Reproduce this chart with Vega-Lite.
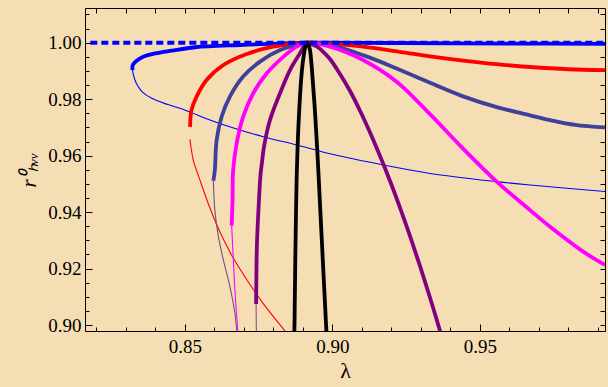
{
  "$schema": "https://vega.github.io/schema/vega-lite/v6.json",
  "width": 520,
  "height": 323,
  "autosize": {"type": "none"},
  "padding": {"left": 85, "top": 8, "right": 3, "bottom": 56},
  "background": "#f5deb3",
  "config": {
    "view": {"stroke": "#000", "strokeWidth": 1},
    "font": "Liberation Serif, Times New Roman, serif",
    "axis": {"domain": false, "grid": false, "tickColor": "#000", "tickWidth": 1, "labelColor": "#000", "titleColor": "#000", "labelFont": "Liberation Serif, Times New Roman, serif", "titleFont": "Liberation Serif, Times New Roman, serif", "labelFontSize": 19, "titleFontWeight": "normal"}
  },
  "datasets": {
    "thick": [
      {"s": "blue", "x": 0.8323, "y": 0.9903},
      {"s": "blue", "x": 0.8324, "y": 0.9921},
      {"s": "blue", "x": 0.8337, "y": 0.9936},
      {"s": "blue", "x": 0.8359, "y": 0.9950},
      {"s": "blue", "x": 0.8399, "y": 0.9962},
      {"s": "blue", "x": 0.8456, "y": 0.9972},
      {"s": "blue", "x": 0.8535, "y": 0.9984},
      {"s": "blue", "x": 0.8687, "y": 0.9992},
      {"s": "blue", "x": 0.8823, "y": 0.9997},
      {"s": "blue", "x": 0.8914, "y": 1.0},
      {"s": "blue", "x": 0.9230, "y": 0.9999},
      {"s": "blue", "x": 0.9600, "y": 0.9997},
      {"s": "blue", "x": 0.9924, "y": 0.9996},
      {"s": "red", "x": 0.8518, "y": 0.9702},
      {"s": "red", "x": 0.8523, "y": 0.9762},
      {"s": "red", "x": 0.8540, "y": 0.9809},
      {"s": "red", "x": 0.8574, "y": 0.9868},
      {"s": "red", "x": 0.8631, "y": 0.9921},
      {"s": "red", "x": 0.8710, "y": 0.9960},
      {"s": "red", "x": 0.8800, "y": 0.9986},
      {"s": "red", "x": 0.8914, "y": 1.0},
      {"s": "red", "x": 0.8992, "y": 0.9997},
      {"s": "red", "x": 0.9104, "y": 0.9986},
      {"s": "red", "x": 0.9229, "y": 0.9968},
      {"s": "red", "x": 0.9331, "y": 0.9952},
      {"s": "red", "x": 0.9443, "y": 0.9937},
      {"s": "red", "x": 0.9557, "y": 0.9924},
      {"s": "red", "x": 0.9670, "y": 0.9914},
      {"s": "red", "x": 0.9800, "y": 0.9906},
      {"s": "red", "x": 0.9924, "y": 0.9903},
      {"s": "slate", "x": 0.8597, "y": 0.9511},
      {"s": "slate", "x": 0.8602, "y": 0.9549},
      {"s": "slate", "x": 0.8608, "y": 0.9655},
      {"s": "slate", "x": 0.8625, "y": 0.9738},
      {"s": "slate", "x": 0.8653, "y": 0.9809},
      {"s": "slate", "x": 0.8698, "y": 0.9880},
      {"s": "slate", "x": 0.8755, "y": 0.9933},
      {"s": "slate", "x": 0.8823, "y": 0.9974},
      {"s": "slate", "x": 0.8891, "y": 0.9995},
      {"s": "slate", "x": 0.8914, "y": 1.0},
      {"s": "slate", "x": 0.8992, "y": 0.9992},
      {"s": "slate", "x": 0.9104, "y": 0.9956},
      {"s": "slate", "x": 0.9218, "y": 0.9909},
      {"s": "slate", "x": 0.9331, "y": 0.9858},
      {"s": "slate", "x": 0.9443, "y": 0.9810},
      {"s": "slate", "x": 0.9557, "y": 0.9772},
      {"s": "slate", "x": 0.9670, "y": 0.9743},
      {"s": "slate", "x": 0.9738, "y": 0.9726},
      {"s": "slate", "x": 0.9823, "y": 0.9709},
      {"s": "slate", "x": 0.9924, "y": 0.9700},
      {"s": "magenta", "x": 0.8659, "y": 0.9352},
      {"s": "magenta", "x": 0.8662, "y": 0.9443},
      {"s": "magenta", "x": 0.8664, "y": 0.9549},
      {"s": "magenta", "x": 0.8676, "y": 0.9644},
      {"s": "magenta", "x": 0.8698, "y": 0.9738},
      {"s": "magenta", "x": 0.8732, "y": 0.9821},
      {"s": "magenta", "x": 0.8778, "y": 0.9892},
      {"s": "magenta", "x": 0.8834, "y": 0.9950},
      {"s": "magenta", "x": 0.8879, "y": 0.9986},
      {"s": "magenta", "x": 0.8914, "y": 1.0},
      {"s": "magenta", "x": 0.8992, "y": 0.9986},
      {"s": "magenta", "x": 0.9104, "y": 0.9939},
      {"s": "magenta", "x": 0.9218, "y": 0.9862},
      {"s": "magenta", "x": 0.9331, "y": 0.9747},
      {"s": "magenta", "x": 0.9443, "y": 0.9625},
      {"s": "magenta", "x": 0.9557, "y": 0.9508},
      {"s": "magenta", "x": 0.9670, "y": 0.9407},
      {"s": "magenta", "x": 0.9738, "y": 0.9348},
      {"s": "magenta", "x": 0.9850, "y": 0.9260},
      {"s": "magenta", "x": 0.9924, "y": 0.9213},
      {"s": "purple", "x": 0.87417, "y": 0.90744},
      {"s": "purple", "x": 0.87424, "y": 0.91357},
      {"s": "purple", "x": 0.87447, "y": 0.92894},
      {"s": "purple", "x": 0.87515, "y": 0.94428},
      {"s": "purple", "x": 0.87566, "y": 0.95313},
      {"s": "purple", "x": 0.87627, "y": 0.95845},
      {"s": "purple", "x": 0.87685, "y": 0.96316},
      {"s": "purple", "x": 0.87888, "y": 0.97262},
      {"s": "purple", "x": 0.88227, "y": 0.98208},
      {"s": "purple", "x": 0.88566, "y": 0.99033},
      {"s": "purple", "x": 0.88905, "y": 0.99625},
      {"s": "purple", "x": 0.89142, "y": 1.0},
      {"s": "purple", "x": 0.89312, "y": 0.99947},
      {"s": "purple", "x": 0.89515, "y": 0.99841},
      {"s": "purple", "x": 0.89719, "y": 0.99653},
      {"s": "purple", "x": 0.89922, "y": 0.99423},
      {"s": "purple", "x": 0.90261, "y": 0.98891},
      {"s": "purple", "x": 0.90600, "y": 0.98289},
      {"s": "purple", "x": 0.90939, "y": 0.97591},
      {"s": "purple", "x": 0.91278, "y": 0.96819},
      {"s": "purple", "x": 0.91617, "y": 0.95986},
      {"s": "purple", "x": 0.91956, "y": 0.95101},
      {"s": "purple", "x": 0.92295, "y": 0.94152},
      {"s": "purple", "x": 0.92634, "y": 0.93149},
      {"s": "purple", "x": 0.92973, "y": 0.92086},
      {"s": "purple", "x": 0.93312, "y": 0.90967},
      {"s": "purple", "x": 0.93651, "y": 0.89787},
      {"s": "purple", "x": 0.93922, "y": 0.88830},
      {"s": "black", "x": 0.88702, "y": 0.89468},
      {"s": "black", "x": 0.88715, "y": 0.89787},
      {"s": "black", "x": 0.88729, "y": 0.90886},
      {"s": "black", "x": 0.88746, "y": 0.92302},
      {"s": "black", "x": 0.88766, "y": 0.93719},
      {"s": "black", "x": 0.88790, "y": 0.95136},
      {"s": "black", "x": 0.88820, "y": 0.96199},
      {"s": "black", "x": 0.88854, "y": 0.97085},
      {"s": "black", "x": 0.88898, "y": 0.97970},
      {"s": "black", "x": 0.88956, "y": 0.98856},
      {"s": "black", "x": 0.89024, "y": 0.99493},
      {"s": "black", "x": 0.89085, "y": 0.99848},
      {"s": "black", "x": 0.89142, "y": 1.0},
      {"s": "black", "x": 0.89190, "y": 0.99936},
      {"s": "black", "x": 0.89244, "y": 0.99741},
      {"s": "black", "x": 0.89336, "y": 0.98679},
      {"s": "black", "x": 0.89431, "y": 0.97262},
      {"s": "black", "x": 0.89508, "y": 0.95845},
      {"s": "black", "x": 0.89576, "y": 0.94428},
      {"s": "black", "x": 0.89644, "y": 0.93011},
      {"s": "black", "x": 0.89712, "y": 0.91594},
      {"s": "black", "x": 0.89780, "y": 0.90177},
      {"s": "black", "x": 0.89800, "y": 0.89787},
      {"s": "black", "x": 0.89814, "y": 0.89468}
    ],
    "thin": [
      {"s": "blue", "x": 0.8323, "y": 0.9903},
      {"s": "blue", "x": 0.8326, "y": 0.9886},
      {"s": "blue", "x": 0.8335, "y": 0.9858},
      {"s": "blue", "x": 0.8355, "y": 0.9827},
      {"s": "blue", "x": 0.8388, "y": 0.9803},
      {"s": "blue", "x": 0.8443, "y": 0.9781},
      {"s": "blue", "x": 0.8500, "y": 0.9762},
      {"s": "blue", "x": 0.8597, "y": 0.9722},
      {"s": "blue", "x": 0.8687, "y": 0.9691},
      {"s": "blue", "x": 0.8766, "y": 0.9667},
      {"s": "blue", "x": 0.8879, "y": 0.9638},
      {"s": "blue", "x": 0.9003, "y": 0.9604},
      {"s": "blue", "x": 0.9173, "y": 0.9567},
      {"s": "blue", "x": 0.9331, "y": 0.9537},
      {"s": "blue", "x": 0.9557, "y": 0.9508},
      {"s": "blue", "x": 0.9670, "y": 0.9496},
      {"s": "blue", "x": 0.9924, "y": 0.9473},
      {"s": "red", "x": 0.85176, "y": 0.96578},
      {"s": "red", "x": 0.85210, "y": 0.96316},
      {"s": "red", "x": 0.85288, "y": 0.95845},
      {"s": "red", "x": 0.85515, "y": 0.95136},
      {"s": "red", "x": 0.85854, "y": 0.94144},
      {"s": "red", "x": 0.86193, "y": 0.93294},
      {"s": "red", "x": 0.86644, "y": 0.92373},
      {"s": "red", "x": 0.87098, "y": 0.91612},
      {"s": "red", "x": 0.87661, "y": 0.90762},
      {"s": "red", "x": 0.88397, "y": 0.89787},
      {"s": "red", "x": 0.88634, "y": 0.89468},
      {"s": "slate", "x": 0.8597, "y": 0.9511},
      {"s": "slate", "x": 0.8602, "y": 0.9407},
      {"s": "slate", "x": 0.8614, "y": 0.9313},
      {"s": "slate", "x": 0.8631, "y": 0.9230},
      {"s": "slate", "x": 0.8653, "y": 0.9136},
      {"s": "slate", "x": 0.8670, "y": 0.9042},
      {"s": "slate", "x": 0.8677, "y": 0.8972},
      {"s": "slate", "x": 0.8679, "y": 0.8950},
      {"s": "magenta", "x": 0.8659, "y": 0.9352},
      {"s": "magenta", "x": 0.8663, "y": 0.9266},
      {"s": "magenta", "x": 0.8670, "y": 0.9124},
      {"s": "magenta", "x": 0.8680, "y": 0.8972},
      {"s": "magenta", "x": 0.8683, "y": 0.8940},
      {"s": "purple", "x": 0.87417, "y": 0.90744},
      {"s": "purple", "x": 0.87430, "y": 0.8950}
    ],
    "dash": [
      {"x": 0.8180, "y": 1.0},
      {"x": 0.9924, "y": 1.0}
    ]
  },
  "resolve": {"axis": {"x": "independent", "y": "independent"}, "scale": {"color": "independent"}},
  "layer": [
    {
      "data": {"name": "thin"},
      "mark": {"type": "line", "clip": true, "interpolate": "catmull-rom", "strokeWidth": 1.1},
      "encoding": {
        "x": {"field": "x", "type": "quantitative", "scale": {"domain": [0.8162, 0.9924], "nice": false, "zero": false},
          "axis": {"orient": "bottom", "values": [0.82, 0.83, 0.84, 0.86, 0.87, 0.88, 0.89, 0.91, 0.92, 0.93, 0.94, 0.96, 0.97, 0.98, 0.99], "labels": false, "tickSize": -4, "title": null}},
        "y": {"field": "y", "type": "quantitative", "scale": {"domain": [0.8979, 1.0123], "nice": false, "zero": false},
          "axis": {"orient": "left", "values": [0.905, 0.91, 0.915, 0.925, 0.93, 0.935, 0.945, 0.95, 0.955, 0.965, 0.97, 0.975, 0.985, 0.99, 0.995, 1.005, 1.01], "labels": false, "tickSize": -4, "title": null}},
        "color": {"field": "s", "type": "nominal", "legend": null,
          "scale": {"domain": ["blue", "red", "slate", "magenta", "purple", "black"], "range": ["#0000ff", "#ff0000", "#70508a", "#ff00ff", "#9a4a9a", "#000000"]}}
      }
    },
    {
      "data": {"name": "thick"},
      "mark": {"type": "line", "clip": true, "interpolate": "catmull-rom", "strokeWidth": 3.8},
      "encoding": {
        "x": {"field": "x", "type": "quantitative", "scale": {"domain": [0.8162, 0.9924], "nice": false, "zero": false},
          "axis": {"orient": "bottom", "values": [0.85, 0.9, 0.95], "format": ".2f", "tickSize": -7, "labelPadding": 13, "labelFont": "Liberation Serif, Times New Roman, serif", "title": "λ", "titleFont": "Liberation Serif, Times New Roman, serif", "titleFontSize": 22, "titlePadding": 4}},
        "y": {"field": "y", "type": "quantitative", "scale": {"domain": [0.8979, 1.0123], "nice": false, "zero": false},
          "axis": {"orient": "left", "values": [0.9, 0.92, 0.94, 0.96, 0.98, 1.0], "format": ".2f", "tickSize": -7, "labelPadding": 11, "labelFont": "Liberation Serif, Times New Roman, serif", "title": "r⁰ₕᵥᵥ", "titleFont": "Liberation Serif, Times New Roman, serif", "titleFontStyle": "italic", "titleFontSize": 21, "titlePadding": 8}},
        "color": {"field": "s", "type": "nominal", "legend": null,
          "scale": {"domain": ["blue", "red", "slate", "magenta", "purple", "black"], "range": ["#0000ff", "#ff0000", "#3f3f9c", "#ff00ff", "#800080", "#000000"]}}
      }
    },
    {
      "data": {"name": "dash"},
      "mark": {"type": "line", "clip": true, "color": "#0000ff", "strokeWidth": 3.8, "strokeDash": [7, 4]},
      "encoding": {
        "x": {"field": "x", "type": "quantitative", "scale": {"domain": [0.8162, 0.9924], "nice": false, "zero": false},
          "axis": {"orient": "top", "values": [0.82, 0.83, 0.84, 0.85, 0.86, 0.87, 0.88, 0.89, 0.9, 0.91, 0.92, 0.93, 0.94, 0.95, 0.96, 0.97, 0.98, 0.99], "labels": false, "tickSize": -5, "title": null}},
        "y": {"field": "y", "type": "quantitative", "scale": {"domain": [0.8979, 1.0123], "nice": false, "zero": false},
          "axis": {"orient": "right", "values": [0.9, 0.905, 0.91, 0.915, 0.92, 0.925, 0.93, 0.935, 0.94, 0.945, 0.95, 0.955, 0.96, 0.965, 0.97, 0.975, 0.98, 0.985, 0.99, 0.995, 1.0, 1.005, 1.01], "labels": false, "tickSize": -5, "title": null}}
      }
    }
  ]
}
